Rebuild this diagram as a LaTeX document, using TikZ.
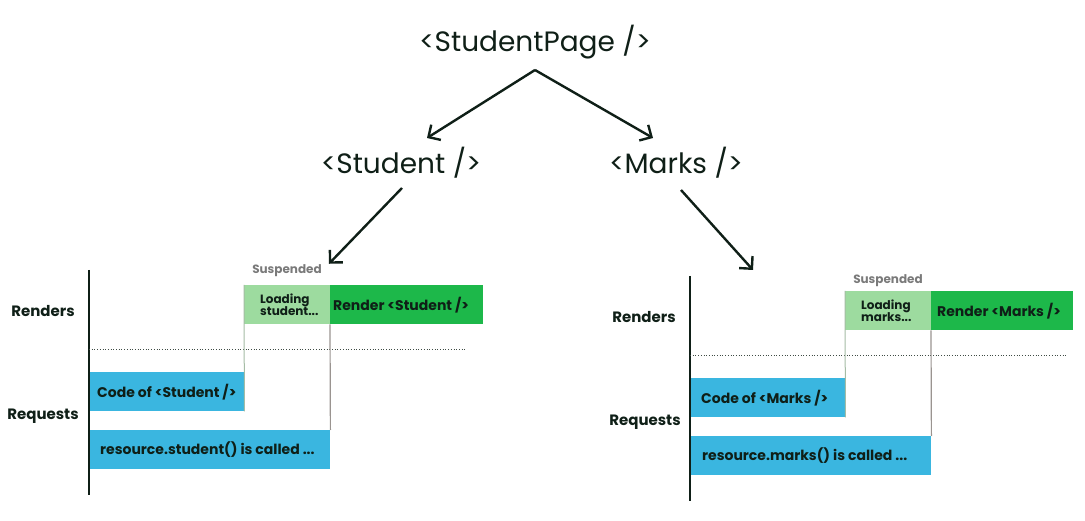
\documentclass[tikz,border=0pt]{standalone}
\usepackage{fontspec}
\setmainfont{Poppins}
\usetikzlibrary{arrows.meta,calc}
\definecolor{ink}{HTML}{0F1F17}
\definecolor{lgreen}{HTML}{9DDB9F}
\definecolor{dgreen}{HTML}{1DB84A}
\definecolor{sky}{HTML}{3AB6E0}
\definecolor{susp}{HTML}{7A7A7A}
\definecolor{guideA}{HTML}{A5BCA5}
\definecolor{guideB}{HTML}{9A9490}
\tikzset{
  treelbl/.style={font=\fontsize{28}{32}\selectfont, text=ink, inner sep=2pt},
  treearr/.style={draw=ink, line width=2.4pt, -{Straight Barb[length=9pt,width=18pt,line width=2.4pt]}},
  axislbl/.style={font=\bfseries\fontsize{15}{18}\selectfont, text=ink},
  bar/.style={anchor=north west, minimum height=39pt, inner sep=0pt},
  loadbar/.style={bar, fill=lgreen, minimum width=86pt},
  renderbar/.style={bar, fill=dgreen},
  reqbar/.style={bar, fill=sky},
  barlbl/.style={anchor=west, inner sep=0pt, align=left, text=ink, font=\bfseries\fontsize{14}{17}\selectfont},
  loadlbl/.style={barlbl, font=\bfseries\fontsize{12}{13}\selectfont},
  susplbl/.style={font=\bfseries\fontsize{12}{14}\selectfont, text=susp, inner sep=1pt},
  axisline/.style={draw=ink, line width=2.2pt},
  dotline/.style={draw=ink!80, line width=0.7pt, dotted},
}
\begin{document}
\begin{tikzpicture}[x=1pt,y=-1pt]
\useasboundingbox (0,0) rectangle (1085,521);

% tree
\node[treelbl] (page) at (535,42) {<StudentPage />};
\node[treelbl] (stud) at (401,163) {<Student />};
\node[treelbl] (mark) at (676,163) {<Marks />};
\coordinate (top) at (535,70);
\coordinate (studbot) at (402,188);
\coordinate (markbot) at (681,190);
\draw[treearr] (top) -- (427,138) coordinate (studtip);
\draw[treearr] (top) -- (653,138) coordinate (marktip);

% ---------- left chart ----------
\coordinate (LaxT) at (89,270);
\coordinate (LaxB) at (89,495);
\draw[axisline] (LaxT) -- (LaxB);
\node[axislbl] (Lren) at (43,311) {Renders};
\node[axislbl] (Lreq) at (43,416) {Requests};
\coordinate (LdotA) at (89,349);
\coordinate (LdotB) at (465,349);
\draw[dotline] (LdotA) -- (LdotB);

\node[loadbar] (Lload) at (244,285) {};
\node[loadlbl] (Lloadt) at ([xshift=16pt]Lload.west) {Loading\\[-1pt]student...};
\node[renderbar, minimum width=153pt] (Lrend) at (330,285) {};
\node[barlbl] (Lrendt) at ([xshift=3pt]Lrend.west) {Render <Student />};
\node[susplbl] (Lsusp) at (287,271) {Suspended};
\node[reqbar, minimum width=154pt] (Lcode) at (90,372) {};
\node[barlbl] (Lcodet) at ([xshift=7pt]Lcode.west) {Code of <Student />};
\node[reqbar, minimum width=240pt] (Lres) at (90,430) {};
\node[barlbl] (Lrest) at ([xshift=10pt]Lres.west) {resource.student() is called ...};
\draw[guideA, line width=1pt] (Lload.north west) -- (Lcode.south east);
\draw[guideB, line width=1.2pt] (Lrend.south west) -- (Lres.north east);

\draw[treearr] (studbot) -- ([xshift=6pt]Lsusp.north east);

% ---------- right chart ----------
\coordinate (RaxT) at (690,276);
\coordinate (RaxB) at (690,501);
\draw[axisline] (RaxT) -- (RaxB);
\node[axislbl] (Rren) at (644,317) {Renders};
\node[axislbl] (Rreq) at (645,422) {Requests};
\coordinate (RdotA) at (690,355);
\coordinate (RdotB) at (1067,355);
\draw[dotline] (RdotA) -- (RdotB);

\node[loadbar] (Rload) at (845,291) {};
\node[loadlbl] (Rloadt) at ([xshift=16pt]Rload.west) {Loading\\[-1pt]marks...};
\node[renderbar, minimum width=142pt] (Rrend) at (931,291) {};
\node[barlbl] (Rrendt) at ([xshift=6pt]Rrend.west) {Render <Marks />};
\node[susplbl] (Rsusp) at (888,281) {Suspended};
\node[reqbar, minimum width=154pt] (Rcode) at (691,378) {};
\node[barlbl] (Rcodet) at ([xshift=10pt]Rcode.west) {Code of <Marks />};
\node[reqbar, minimum width=240pt] (Rres) at (691,436) {};
\node[barlbl] (Rrest) at ([xshift=11pt]Rres.west) {resource.marks() is called ...};
\draw[guideA, line width=1pt] (Rload.north west) -- (Rcode.south east);
\draw[guideB, line width=1.2pt] (Rrend.south west) -- (Rres.north east);

\coordinate (Rtip) at (753,270);
\draw[treearr] (markbot) -- (Rtip);
\end{tikzpicture}
\end{document}
